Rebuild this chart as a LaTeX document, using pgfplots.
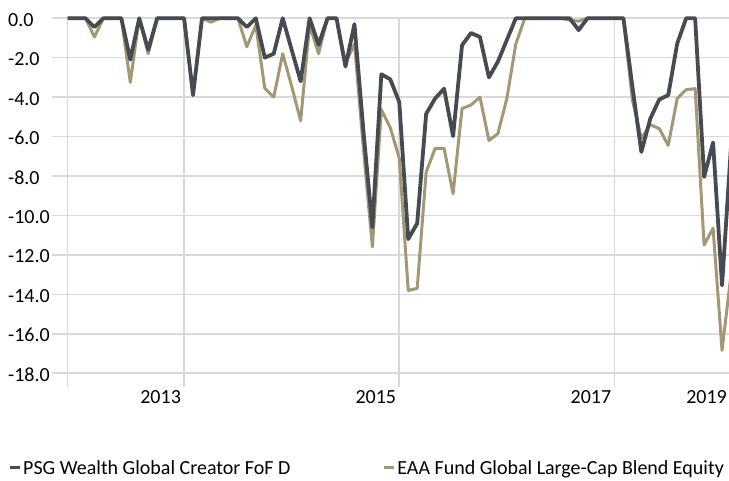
\documentclass[border=0pt]{standalone}
\usepackage{fontspec}
\setmainfont{Carlito}
\usepackage{pgfplots}
\pgfplotsset{compat=1.18}
\usepackage{pgfplotstable}
\definecolor{psg}{RGB}{70,75,82}
\definecolor{eaa}{RGB}{163,152,117}
\definecolor{gridc}{RGB}{217,217,217}
\pgfplotstableread{
i psg eaa
0 0 0
1 0 0
2 0 0
3 -0.45 -0.95
4 0 0
5 0 0
6 0 0
7 -2.1 -3.25
8 0 0
9 -1.6 -1.8
10 0 0
11 0 0
12 0 0
13 0 0
14 -3.9 -3.85
15 0 0
16 0 -0.2
17 0 0
18 0 0
19 0 0
20 -0.45 -1.45
21 0 -0.35
22 -2.0 -3.55
23 -1.8 -4.0
24 0 -1.8
25 -1.6 -3.45
26 -3.2 -5.2
27 0 -0.35
28 -1.35 -1.8
29 0 0
30 0 0
31 -2.45 -2.3
32 -0.3 -1.3
33 -5.7 -6.6
34 -10.6 -11.6
35 -2.84 -4.63
36 -3.1 -5.55
37 -4.25 -7.1
38 -11.2 -13.8
39 -10.4 -13.7
40 -4.85 -7.8
41 -4.07 -6.6
42 -3.57 -6.6
43 -5.98 -8.9
44 -1.37 -4.58
45 -0.75 -4.4
46 -0.95 -4.0
47 -3.0 -6.2
48 -2.2 -5.85
49 -1.1 -4.07
50 0 -1.3
51 0 0
52 0 0
53 0 0
54 0 0
55 0 0
56 0 -0.1
57 -0.6 -0.15
58 0 0
59 0 0
60 0 0
61 0 0
62 0 0
63 -3.46 -4.15
64 -6.78 -6.1
65 -5.09 -5.4
66 -4.12 -5.6
67 -3.9 -6.45
68 -1.28 -4.07
69 0 -3.62
70 0 -3.57
71 -8.05 -11.5
72 -6.3 -10.65
73 -13.55 -16.84
74 -6.5 -13
}\drawdown
\begin{document}
\begin{tikzpicture}
\useasboundingbox (-52.1bp,-94bp) rectangle (676.9bp,387bp);
\begin{axis}[
  at={(0,0)}, anchor=south west,
  x=8.966bp, y=19.72bp,
  xmin=-1.72, xmax=73.78,
  ymin=-18.7, ymax=0,
  clip=false,
  axis line style={draw=none},
  major tick length=0pt,
  xtick={0,13,37,61},
  xticklabels={,2013,2015,2017},
  ytick={-18,-16,-14,-12,-10,-8,-6,-4,-2,0},
  yticklabels={-18.0,-16.0,-14.0,-12.0,-10.0,-8.0,-6.0,-4.0,-2.0,0.0},
  grid=major,
  major grid style={draw=gridc, line width=1.6bp},
  tick label style={font=\fontsize{20bp}{23bp}\selectfont, text=black},
  xticklabel style={anchor=north east, inner sep=0pt, xshift=-3bp, yshift=-3bp},
  yticklabel style={anchor=west, inner sep=0pt, xshift=-44.1bp, yshift=-1.5bp},
  legend style={at={(-0.0652,-0.2196)}, anchor=west, draw=none, fill=none,
    inner sep=0pt, legend columns=2,
    font=\fontsize{20bp}{23bp}\selectfont,
    nodes={inner sep=0pt, inner xsep=2bp},
    /tikz/every even column/.append style={column sep=90bp}},
  legend cell align=left,
  legend image code/.code={\draw[#1, line width=3bp, line cap=butt] (0bp,0bp) -- (10bp,0bp);},
  reverse legend,
]
\addplot[eaa, line width=3bp, line join=round] table[x=i, y=eaa] {\drawdown};
\addlegendentry{EAA Fund Global Large-Cap Blend Equity}
\addplot[psg, line width=3.8bp, line join=round] table[x=i, y=psg] {\drawdown};
\addlegendentry{PSG Wealth Global Creator FoF D}
\node[anchor=north east, inner sep=0pt, yshift=-3bp, font=\fontsize{20bp}{23bp}\selectfont] at (axis cs:73.56,-18.7) {2019};
\end{axis}
\end{tikzpicture}
\end{document}
